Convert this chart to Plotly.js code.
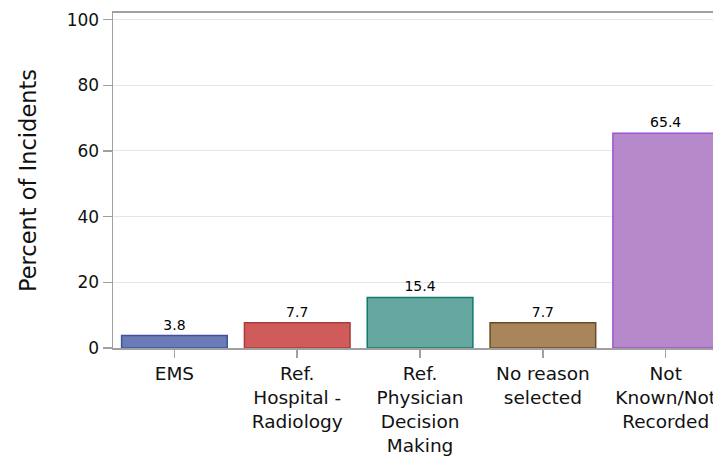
<!DOCTYPE html>
<html>
<head>
<meta charset="utf-8">
<script src="https://cdn.plot.ly/plotly-3.0.1.min.js"></script>
<style>html,body{margin:0;padding:0;background:#fff;}#chart{width:713px;height:458px;}</style>
</head>
<body>
<div id="chart"></div>
<script>
var categories = ["EMS", "Ref.<br>Hospital -<br>Radiology", "Ref.<br>Physician<br>Decision<br>Making", "No reason<br>selected", "Not<br>Known/Not<br>Recorded"];
var percents = [3.8, 7.7, 15.4, 7.7, 65.4];
var labels = ["3.8", "7.7", "15.4", "7.7", "65.4"];
var yTicks = [0, 20, 40, 60, 80, 100];
var fillColors = ["#6b7bb6", "#d05b5b", "#66a8a0", "#a8855b", "#b689ca"];
var lineColors = ["#3f529e", "#a83c3c", "#127a6c", "#6b4c22", "#9b52d6"];

var trace = {
  type: "bar",
  x: categories,
  y: percents,
  text: labels,
  textposition: "outside",
  cliponaxis: false,
  textfont: {family: "DejaVu Sans", size: 14, color: "#000"},
  marker: {color: fillColors, line: {color: lineColors, width: 1.5}},
  width: 0.86,
  hoverinfo: "none"
};

var layout = {
  width: 713, height: 458,
  margin: {l: 113, r: 0, t: 13, b: 110},
  paper_bgcolor: "#fff", plot_bgcolor: "#fff",
  showlegend: false,
  font: {family: "DejaVu Sans", color: "#000"},
  xaxis: {
    type: "category",
    range: [-0.5, 4.385],
    showline: true, linecolor: "#a0a0a0", linewidth: 2, mirror: true,
    ticks: "outside", ticklen: 8, tickcolor: "#a0a0a0", tickwidth: 1.5,
    tickfont: {family: "DejaVu Sans", size: 18.5, color: "#111"},
    showgrid: false, zeroline: false, fixedrange: true
  },
  yaxis: {
    range: [0, 102],
    tickvals: yTicks,
    ticktext: yTicks.map(String),
    showline: true, linecolor: "#a0a0a0", linewidth: 1.5,
    ticks: "outside", ticklen: 9, tickcolor: "#a0a0a0", tickwidth: 1.5,
    tickfont: {family: "DejaVu Sans", size: 17, color: "#111"},
    showgrid: true, gridcolor: "#e6e6e6", gridwidth: 1,
    zeroline: false,
    title: {text: "Percent of Incidents", font: {family: "DejaVu Sans", size: 22.5, color: "#111"}, standoff: 24},
    fixedrange: true
  }
};

Plotly.newPlot("chart", [trace], layout, {displayModeBar: false, staticPlot: true});
</script>
</body>
</html>
